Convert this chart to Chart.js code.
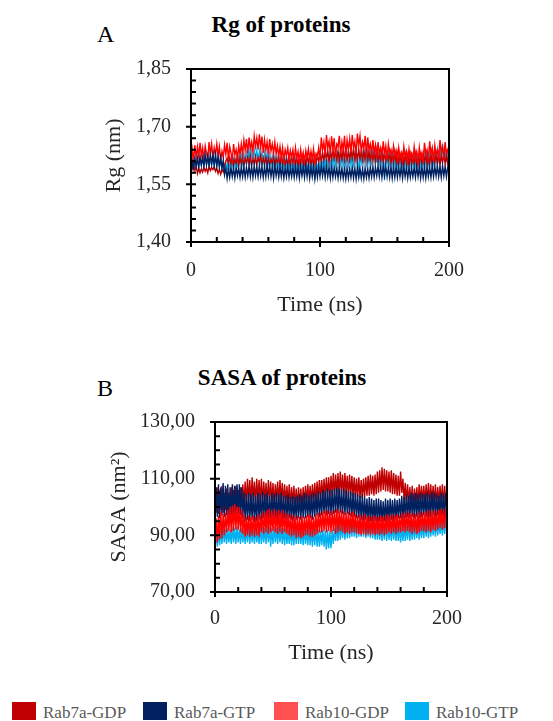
<!DOCTYPE html>
<html lang="en">
<head>
  <meta charset="UTF-8" />
  <title>Rg and SASA of proteins</title>
  <script src="https://cdn.jsdelivr.net/npm/chart.js"></script>
  <style>
    * { box-sizing: border-box; }
    body {
      margin: 0;
      background: #fff;
      font-family: 'Liberation Serif', 'Times New Roman', serif;
    }
    .page { position: relative; width: 553px; height: 721px; overflow: hidden; }
    canvas { position: absolute; left: 0; }
    #rgChart { top: 0; }
    #sasaChart { top: 340px; }

    .lbl { position: absolute; line-height: 1; white-space: nowrap; color: #000; }
    .panel { font-size: 24px; left: 97px; }
    .title { font-size: 23px; font-weight: bold; transform: translateX(-50%); }

    /* legend */
    .swatch { position: absolute; top: 702px; width: 24px; height: 18px; }
    .legend-text { position: absolute; top: 704px; font-size: 17px; line-height: 1; color: #595959; white-space: nowrap; }
  </style>
</head>
<body>
  <div class="page" id="page">
    <div class="lbl panel" style="top:22px">A</div>
    <div class="lbl title" style="left:281px; top:13px">Rg of proteins</div>
    <canvas id="rgChart" width="553" height="330"></canvas>

    <div class="lbl panel" style="top:376px">B</div>
    <div class="lbl title" style="left:282px; top:366px">SASA of proteins</div>
    <canvas id="sasaChart" width="553" height="360"></canvas>
  </div>

<script>
  // time axis (ns), one sample per ns
  const timeNs = [
    0, 1, 2, 3, 4, 5, 6, 7, 8, 9, 10, 11, 12, 13, 14, 15, 16, 17, 18, 19,
    20, 21, 22, 23, 24, 25, 26, 27, 28, 29, 30, 31, 32, 33, 34, 35, 36, 37, 38, 39,
    40, 41, 42, 43, 44, 45, 46, 47, 48, 49, 50, 51, 52, 53, 54, 55, 56, 57, 58, 59,
    60, 61, 62, 63, 64, 65, 66, 67, 68, 69, 70, 71, 72, 73, 74, 75, 76, 77, 78, 79,
    80, 81, 82, 83, 84, 85, 86, 87, 88, 89, 90, 91, 92, 93, 94, 95, 96, 97, 98, 99,
    100, 101, 102, 103, 104, 105, 106, 107, 108, 109, 110, 111, 112, 113, 114, 115, 116, 117, 118, 119,
    120, 121, 122, 123, 124, 125, 126, 127, 128, 129, 130, 131, 132, 133, 134, 135, 136, 137, 138, 139,
    140, 141, 142, 143, 144, 145, 146, 147, 148, 149, 150, 151, 152, 153, 154, 155, 156, 157, 158, 159,
    160, 161, 162, 163, 164, 165, 166, 167, 168, 169, 170, 171, 172, 173, 174, 175, 176, 177, 178, 179,
    180, 181, 182, 183, 184, 185, 186, 187, 188, 189, 190, 191, 192, 193, 194, 195, 196, 197, 198, 199,
    200
  ];

  const seriesNames = ['Rab7a-GDP', 'Rab7a-GTP', 'Rab10-GDP', 'Rab10-GTP'];
  const lineColors = ['#C00000', '#002060', '#FF0000', '#00B0F0'];
  const legendColors = ['#C00000', '#002060', '#FF5050', '#00B0F0'];
  // lower = drawn on top
  const rgDrawOrder = [2, 0, 1, 3];
  const sasaDrawOrder = [2, 1, 0, 3];

  // Rg (nm)
  const rgRab7aGdp = [
    1.605, 1.590, 1.600, 1.585, 1.598, 1.578, 1.592, 1.580, 1.590, 1.582, 1.594, 1.584, 1.592, 1.580, 1.596, 1.586, 1.594, 1.588, 1.596, 1.584,
    1.592, 1.578, 1.590, 1.576, 1.588, 1.582, 1.600, 1.610, 1.618, 1.602, 1.620, 1.605, 1.622, 1.600, 1.616, 1.604, 1.624, 1.600, 1.620, 1.604,
    1.620, 1.598, 1.618, 1.606, 1.622, 1.602, 1.625, 1.600, 1.616, 1.604, 1.622, 1.600, 1.620, 1.608, 1.626, 1.600, 1.618, 1.604, 1.622, 1.600,
    1.620, 1.602, 1.616, 1.604, 1.622, 1.598, 1.618, 1.606, 1.620, 1.600, 1.624, 1.604, 1.618, 1.600, 1.616, 1.602, 1.620, 1.598, 1.622, 1.606,
    1.622, 1.602, 1.618, 1.600, 1.620, 1.604, 1.625, 1.602, 1.618, 1.600, 1.622, 1.606, 1.624, 1.602, 1.620, 1.600, 1.624, 1.606, 1.626, 1.608,
    1.628, 1.610, 1.632, 1.612, 1.636, 1.614, 1.638, 1.610, 1.634, 1.614, 1.640, 1.616, 1.636, 1.612, 1.638, 1.610, 1.636, 1.614, 1.640, 1.612,
    1.640, 1.615, 1.636, 1.612, 1.638, 1.616, 1.642, 1.614, 1.638, 1.612, 1.640, 1.616, 1.636, 1.612, 1.638, 1.614, 1.642, 1.610, 1.636, 1.612,
    1.636, 1.612, 1.634, 1.610, 1.638, 1.608, 1.632, 1.612, 1.636, 1.610, 1.634, 1.608, 1.632, 1.610, 1.634, 1.606, 1.630, 1.608, 1.634, 1.606,
    1.630, 1.604, 1.628, 1.606, 1.626, 1.602, 1.628, 1.605, 1.626, 1.600, 1.628, 1.604, 1.624, 1.602, 1.628, 1.600, 1.624, 1.603, 1.626, 1.604,
    1.628, 1.606, 1.630, 1.602, 1.626, 1.604, 1.628, 1.600, 1.626, 1.606, 1.630, 1.604, 1.628, 1.600, 1.626, 1.606, 1.630, 1.604, 1.628, 1.602,
    1.626
  ];
  const rgRab7aGtp = [
    1.578, 1.608, 1.592, 1.615, 1.596, 1.618, 1.594, 1.622, 1.600, 1.620, 1.598, 1.626, 1.602, 1.624, 1.600, 1.628, 1.604, 1.626, 1.600, 1.628,
    1.598, 1.624, 1.596, 1.620, 1.592, 1.612, 1.575, 1.592, 1.565, 1.590, 1.568, 1.594, 1.570, 1.592, 1.566, 1.594, 1.572, 1.592, 1.568, 1.595,
    1.570, 1.595, 1.568, 1.594, 1.572, 1.598, 1.570, 1.596, 1.568, 1.598, 1.572, 1.595, 1.570, 1.598, 1.572, 1.596, 1.568, 1.595, 1.570, 1.600,
    1.572, 1.598, 1.570, 1.596, 1.566, 1.600, 1.572, 1.594, 1.568, 1.596, 1.570, 1.594, 1.566, 1.592, 1.570, 1.596, 1.568, 1.592, 1.570, 1.594,
    1.568, 1.596, 1.570, 1.594, 1.566, 1.596, 1.572, 1.595, 1.568, 1.598, 1.570, 1.598, 1.566, 1.594, 1.570, 1.596, 1.564, 1.594, 1.568, 1.596,
    1.570, 1.598, 1.572, 1.596, 1.568, 1.598, 1.570, 1.594, 1.566, 1.596, 1.568, 1.594, 1.570, 1.592, 1.566, 1.594, 1.568, 1.592, 1.566, 1.590,
    1.564, 1.592, 1.566, 1.590, 1.568, 1.594, 1.566, 1.592, 1.564, 1.594, 1.568, 1.592, 1.566, 1.590, 1.564, 1.592, 1.568, 1.590, 1.566, 1.594,
    1.570, 1.596, 1.568, 1.594, 1.572, 1.598, 1.570, 1.596, 1.568, 1.598, 1.572, 1.596, 1.570, 1.594, 1.568, 1.596, 1.566, 1.594, 1.568, 1.596,
    1.568, 1.594, 1.570, 1.596, 1.566, 1.596, 1.570, 1.592, 1.566, 1.594, 1.568, 1.592, 1.570, 1.594, 1.568, 1.596, 1.570, 1.594, 1.566, 1.596,
    1.568, 1.594, 1.566, 1.596, 1.570, 1.594, 1.568, 1.598, 1.570, 1.596, 1.572, 1.598, 1.570, 1.596, 1.568, 1.598, 1.572, 1.596, 1.570, 1.594,
    1.592
  ];
  const rgRab10Gdp = [
    1.605, 1.640, 1.612, 1.652, 1.618, 1.648, 1.622, 1.658, 1.625, 1.645, 1.615, 1.650, 1.632, 1.614, 1.660, 1.628, 1.655, 1.620, 1.645, 1.626,
    1.655, 1.625, 1.648, 1.612, 1.636, 1.620, 1.652, 1.628, 1.658, 1.615, 1.648, 1.632, 1.612, 1.655, 1.626, 1.640, 1.618, 1.650, 1.626, 1.655,
    1.628, 1.665, 1.638, 1.668, 1.630, 1.672, 1.642, 1.660, 1.635, 1.676, 1.648, 1.670, 1.640, 1.680, 1.645, 1.674, 1.632, 1.666, 1.638, 1.660,
    1.628, 1.668, 1.636, 1.655, 1.630, 1.660, 1.628, 1.650, 1.622, 1.648, 1.618, 1.645, 1.612, 1.640, 1.625, 1.645, 1.615, 1.638, 1.620, 1.640,
    1.610, 1.645, 1.618, 1.635, 1.608, 1.640, 1.612, 1.632, 1.606, 1.638, 1.620, 1.642, 1.612, 1.636, 1.615, 1.642, 1.605, 1.630, 1.622, 1.645,
    1.615, 1.672, 1.640, 1.660, 1.625, 1.678, 1.645, 1.662, 1.630, 1.675, 1.640, 1.670, 1.622, 1.655, 1.648, 1.676, 1.628, 1.660, 1.640, 1.676,
    1.624, 1.665, 1.640, 1.668, 1.632, 1.678, 1.645, 1.662, 1.628, 1.682, 1.650, 1.676, 1.635, 1.660, 1.644, 1.676, 1.626, 1.672, 1.640, 1.655,
    1.630, 1.665, 1.632, 1.652, 1.618, 1.660, 1.630, 1.645, 1.622, 1.662, 1.628, 1.650, 1.615, 1.655, 1.630, 1.640, 1.620, 1.650, 1.625, 1.638,
    1.612, 1.645, 1.620, 1.632, 1.608, 1.648, 1.622, 1.636, 1.610, 1.642, 1.618, 1.630, 1.612, 1.648, 1.620, 1.635, 1.606, 1.645, 1.618, 1.632,
    1.612, 1.658, 1.628, 1.640, 1.615, 1.662, 1.630, 1.645, 1.610, 1.652, 1.625, 1.638, 1.618, 1.665, 1.632, 1.648, 1.615, 1.660, 1.630, 1.640,
    1.622
  ];
  const rgRab10Gtp = [
    1.600, 1.615, 1.598, 1.620, 1.602, 1.612, 1.596, 1.618, 1.600, 1.614, 1.598, 1.620, 1.602, 1.616, 1.596, 1.614, 1.600, 1.618, 1.598, 1.620,
    1.598, 1.614, 1.596, 1.612, 1.590, 1.608, 1.594, 1.605, 1.588, 1.610, 1.592, 1.612, 1.596, 1.615, 1.598, 1.618, 1.600, 1.622, 1.604, 1.625,
    1.604, 1.630, 1.610, 1.632, 1.612, 1.638, 1.610, 1.636, 1.612, 1.640, 1.614, 1.638, 1.612, 1.636, 1.610, 1.634, 1.608, 1.632, 1.606, 1.630,
    1.606, 1.628, 1.602, 1.624, 1.600, 1.620, 1.598, 1.618, 1.596, 1.618, 1.594, 1.615, 1.592, 1.614, 1.590, 1.612, 1.592, 1.614, 1.590, 1.612,
    1.588, 1.614, 1.590, 1.612, 1.590, 1.610, 1.588, 1.612, 1.586, 1.612, 1.586, 1.610, 1.584, 1.608, 1.586, 1.610, 1.562, 1.608, 1.588, 1.610,
    1.590, 1.618, 1.594, 1.620, 1.596, 1.622, 1.598, 1.624, 1.598, 1.625, 1.600, 1.626, 1.600, 1.628, 1.602, 1.626, 1.602, 1.628, 1.600, 1.626,
    1.598, 1.624, 1.600, 1.626, 1.600, 1.628, 1.602, 1.628, 1.604, 1.630, 1.565, 1.628, 1.606, 1.630, 1.604, 1.632, 1.604, 1.636, 1.606, 1.638,
    1.608, 1.640, 1.610, 1.644, 1.606, 1.638, 1.606, 1.632, 1.602, 1.630, 1.562, 1.628, 1.604, 1.628, 1.602, 1.628, 1.600, 1.626, 1.600, 1.624,
    1.598, 1.622, 1.598, 1.622, 1.596, 1.620, 1.598, 1.622, 1.598, 1.624, 1.600, 1.624, 1.600, 1.626, 1.600, 1.626, 1.598, 1.624, 1.598, 1.622,
    1.600, 1.628, 1.602, 1.630, 1.604, 1.634, 1.606, 1.636, 1.606, 1.638, 1.608, 1.640, 1.610, 1.648, 1.612, 1.655, 1.612, 1.645, 1.608, 1.640,
    1.570
  ];

  // SASA (nm²)
  const sasaRab7aGdp = [
    105, 98, 107, 97.5, 106, 99, 107.5, 98, 105, 99, 106.5, 98, 105, 100, 107, 99, 106, 100, 107.5, 99,
    106, 99, 107, 100, 108, 101, 109, 101, 110, 102, 109.5, 101, 110.5, 102, 109, 101, 110, 102, 109.5, 101.5,
    110, 101, 109, 102, 108.5, 101, 109.5, 102, 109, 101.5, 108.5, 101, 108, 102, 109, 101, 109.5, 102, 108.5, 101,
    108, 101, 107.5, 100.5, 108, 100, 107, 100.5, 107.5, 100, 106.5, 99.5, 107, 100, 106.5, 99.5, 107, 100.5, 107.5, 101,
    108, 101.5, 107.5, 101, 108, 101, 108.5, 102, 109, 102.5, 109.5, 102.5, 109.5, 103, 110, 103, 110.5, 103.5, 110.5, 103.5,
    111, 104, 112, 104, 111.5, 104.5, 112, 104, 112.5, 104.5, 111.5, 104, 112, 104.5, 111, 103.5, 111.5, 104, 111, 103.5,
    110.5, 103, 110, 103.5, 110.5, 103, 109.5, 103, 110, 103.5, 110.5, 104, 111, 104, 111.5, 104.5, 111, 104, 111.5, 104.5,
    112.5, 105, 113, 105.5, 114, 106, 113.5, 105.5, 113, 105.5, 112.5, 105, 113, 104.5, 112, 104.5, 111.5, 104, 111, 104,
    112.5, 105, 110, 102, 108.5, 101.5, 108, 101, 107, 100.5, 107.5, 100, 106.5, 100, 107, 100.5, 108, 101, 107.5, 101,
    107.5, 101, 108, 101.5, 108.5, 101, 108, 100.5, 107.5, 101, 108, 100.5, 107, 101, 107.5, 101, 108, 100.5, 107.5, 100.5,
    106
  ];
  const sasaRab7aGtp = [
    99, 107, 96.5, 108, 96, 107, 97, 108.5, 96.5, 107.5, 97, 108, 96, 107, 97, 108, 96.5, 107.5, 97.5, 108,
    97.5, 108, 97, 107, 96, 105, 95, 104.5, 95.5, 105, 95, 104.5, 95.5, 105, 94.5, 104, 95, 105, 95.5, 104.5,
    95, 105.5, 96, 104.5, 95.5, 105, 95, 104, 96, 105, 95.5, 104.5, 96, 105, 95.5, 104.5, 96, 105, 95.5, 104,
    96, 104, 95.5, 104.5, 96, 103.5, 95.5, 104, 95, 103.5, 95.5, 104, 96, 104.5, 95.5, 104, 96, 105, 96, 104.5,
    96.5, 104, 96, 104.5, 95.5, 105, 96.5, 104.5, 97, 105.5, 96.5, 105, 97, 106, 97.5, 105.5, 97, 106.5, 97.5, 106,
    97, 106, 97.5, 106.5, 98, 107, 97.5, 106.5, 98, 106, 97.5, 106.5, 97, 106, 97.5, 105.5, 97, 105.5, 96.5, 105,
    96.5, 105, 96, 104.5, 96, 104, 95.5, 104.5, 95, 103.5, 95.5, 103, 94.5, 103.5, 95, 103, 94.5, 102.5, 95, 103,
    94.5, 103, 95, 102.5, 94.5, 102, 95, 103, 94.5, 102.5, 95, 103, 95.5, 102.5, 95, 103, 95.5, 102.5, 96, 103,
    96, 104, 95.5, 103.5, 96, 104.5, 96.5, 104, 96, 105, 96.5, 104.5, 96, 105, 96.5, 104.5, 96, 105, 96.5, 104.5,
    97, 104.5, 96.5, 105, 96, 104.5, 96.5, 105.5, 97, 105, 96.5, 104.5, 97, 104, 96.5, 105, 97, 104.5, 96.5, 105,
    98
  ];
  const sasaRab10Gdp = [
    88, 96, 87.5, 97, 88.5, 98.5, 89, 97.5, 90, 98, 91, 99, 91.5, 100, 91, 100.5, 91.5, 101, 92, 100,
    92, 100, 91, 99, 90.5, 97.5, 89.5, 96.5, 90, 97, 89.5, 96.5, 90, 97, 89.5, 96.5, 90, 97.5, 89.5, 97,
    91, 98.5, 90.5, 98, 91, 99, 90.5, 99.5, 91, 98.5, 91.5, 99.5, 91, 98.5, 90.5, 99, 91, 98, 90.5, 99,
    91, 98, 90.5, 97.5, 90, 97.5, 89.5, 97, 90, 96.5, 89, 97, 89.5, 96.5, 89, 97, 89.5, 96.5, 90, 97,
    90, 97.5, 89.5, 97, 89.5, 96.5, 90, 97.5, 90.5, 98, 91, 98, 91, 98.5, 91.5, 98.5, 91, 99, 91.5, 98.5,
    91, 98.5, 91.5, 99, 90.5, 99.5, 91, 98.5, 91.5, 99, 91, 98.5, 90.5, 98, 91, 98.5, 90.5, 98, 91, 98.5,
    91, 97.5, 90.5, 97, 90.5, 97.5, 90, 97, 90.5, 97.5, 90, 96.5, 90.5, 97, 90, 96.5, 90.5, 97, 90, 97,
    90.5, 96.5, 90, 97, 90.5, 96.5, 90, 97, 90.5, 97.5, 91, 97, 90.5, 97.5, 91, 97, 90.5, 97.5, 91, 97,
    91, 98, 91.5, 97.5, 91, 98.5, 91.5, 98, 91, 97.5, 90.5, 98, 91, 97.5, 90.5, 98, 91, 98.5, 91.5, 98,
    91.5, 98, 91, 98.5, 91.5, 99, 91, 98.5, 92, 99, 91.5, 98.5, 92, 99, 92.5, 99.5, 92, 99, 92.5, 99.5,
    96
  ];
  const sasaRab10Gtp = [
    85.5, 91, 86, 91.5, 86.5, 92, 87, 92.5, 87.5, 92, 87, 92.5, 87.5, 92, 87, 93, 87.5, 92.5, 87, 93,
    87.5, 92, 87, 92.5, 87.5, 92, 87, 92.5, 87.5, 93, 87, 92.5, 87.5, 92, 87, 92.5, 87.5, 92, 87, 92.5,
    87, 93, 87.5, 92.5, 87, 93.5, 87.5, 93, 86, 92.5, 87, 93, 87.5, 92.5, 87, 93, 87.5, 92.5, 87, 92.5,
    86.5, 92.5, 87, 92, 87, 92.5, 86.5, 92, 86.5, 92.5, 87, 93, 87, 92.5, 87, 92, 86.5, 92.5, 87, 92,
    86.5, 92.5, 86.5, 92, 86, 92, 86.5, 92.5, 86, 92, 86, 91.5, 86.5, 92, 86, 91.5, 85, 92, 85.5, 91.5,
    85.5, 92, 87, 92.5, 88, 93.5, 88, 94, 88.5, 94, 89, 94.5, 88.5, 94.5, 89, 95, 89, 94.5, 89.5, 95,
    89.5, 94.5, 89, 95, 89.5, 94.5, 89.5, 95.5, 89.5, 95, 89, 94.5, 89.5, 95, 89, 94.5, 89, 94, 88.5, 94,
    88.5, 93.5, 88.5, 94, 88, 93.5, 88.5, 94, 88, 93.5, 88.5, 93, 88, 93.5, 88.5, 93, 88, 93.5, 88, 93,
    87.5, 93, 88, 93.5, 88, 93.5, 88.5, 94, 88, 93.5, 88.5, 94, 88.5, 93.5, 89, 94, 88.5, 94, 89, 94,
    89, 94.5, 89.5, 94.5, 89, 95, 89.5, 94.5, 90, 94.5, 89.5, 95, 90, 94.5, 90.5, 95, 90, 95.5, 90.5, 95,
    92
  ];

  const inkColor = '#262626';
  const tickFont = { family: "'Liberation Serif', 'Times New Roman', serif", size: 20 };
  const axisTitleFont = { family: "'Liberation Serif', 'Times New Roman', serif", size: 22 };

  function isMajor(v, base, step) {
    const k = (v - base) / step;
    return Math.abs(k - Math.round(k)) < 1e-6;
  }

  // black frame round the plot + inward minor ticks, crossing major ticks
  const frameTicks = {
    id: 'frameTicks',
    afterDraw(chart, args, o) {
      const { ctx, chartArea: a, scales: { x, y } } = chart;
      ctx.save();
      ctx.strokeStyle = '#000';
      ctx.lineWidth = 2;
      ctx.strokeRect(a.left, a.top, a.right - a.left, a.bottom - a.top);
      ctx.beginPath();
      y.ticks.forEach(t => {
        const py = y.getPixelForValue(t.value);
        const major = isMajor(t.value, y.min, o.yMajor);
        ctx.moveTo(a.left - (major ? 5 : 0), py);
        ctx.lineTo(a.left + 5, py);
      });
      x.ticks.forEach(t => {
        const px = x.getPixelForValue(t.value);
        const major = isMajor(t.value, x.min, o.xMajor);
        ctx.moveTo(px, a.bottom + (major ? 5 : 0));
        ctx.lineTo(px, a.bottom - 5);
      });
      ctx.stroke();
      ctx.restore();
    }
  };

  function buildChart(id, series, o) {
    const fmt = v => v.toFixed(2).replace('.', ',');
    return new Chart(document.getElementById(id), {
      type: 'line',
      data: {
        datasets: seriesNames.map((name, i) => ({
          label: name,
          data: timeNs.map((t, j) => ({ x: t, y: series[i][j] })),
          borderColor: lineColors[i],
          borderWidth: 1.4,
          pointRadius: 0,
          tension: 0,
          order: o.order[i]
        }))
      },
      options: {
        responsive: false,
        animation: false,
        devicePixelRatio: 1,
        events: [],
        layout: { padding: { left: 0, top: o.padTop, right: o.padRight, bottom: o.padBottom } },
        plugins: {
          legend: { display: false },
          tooltip: { enabled: false },
          frameTicks: { xMajor: 100, yMajor: o.yMajor }
        },
        scales: {
          x: {
            type: 'linear', min: 0, max: 200,
            grid: { display: false, drawTicks: false },
            border: { display: false },
            ticks: {
              stepSize: 20, autoSkip: false, maxRotation: 0,
              padding: o.xTickPad, color: inkColor, font: tickFont,
              callback: v => isMajor(v, 0, 100) ? String(v) : ''
            },
            title: { display: true, text: 'Time (ns)', color: inkColor, font: axisTitleFont, padding: 0 },
            afterFit: s => { s.height = o.xAxisH; }
          },
          y: {
            min: o.yMin, max: o.yMax,
            grid: { display: false, drawTicks: false },
            border: { display: false },
            ticks: {
              stepSize: o.yMinor, autoSkip: false,
              padding: 20, color: inkColor, font: tickFont,
              callback: v => isMajor(v, o.yMin, o.yMajor) ? fmt(v) : ''
            },
            title: { display: true, text: o.yTitle, color: inkColor, font: axisTitleFont, padding: { top: o.yTitlePad, bottom: 0 } },
            afterFit: s => { s.width = o.yAxisW; }
          }
        }
      },
      plugins: [frameTicks]
    });
  }

  buildChart('rgChart', [rgRab7aGdp, rgRab7aGtp, rgRab10Gdp, rgRab10Gtp], {
    yMin: 1.40, yMax: 1.85, yMajor: 0.15, yMinor: 0.03, yTitle: 'Rg (nm)', order: rgDrawOrder,
    padTop: 69, padRight: 104, padBottom: 12,
    xAxisH: 76, yAxisW: 191, yTitlePad: 101, xTickPad: 17
  });

  buildChart('sasaChart', [sasaRab7aGdp, sasaRab7aGtp, sasaRab10Gdp, sasaRab10Gtp], {
    yMin: 70, yMax: 130, yMajor: 20, yMinor: 5, yTitle: 'SASA (nm²)', order: sasaDrawOrder,
    padTop: 82, padRight: 106, padBottom: 34,
    xAxisH: 74, yAxisW: 215, yTitlePad: 106, xTickPad: 15
  });

  // legend along the bottom
  const page = document.getElementById('page');
  seriesNames.forEach((name, i) => {
    const left = 12 + i * 131;
    const sw = document.createElement('div');
    sw.className = 'swatch';
    sw.style.left = left + 'px';
    sw.style.background = legendColors[i];
    const tx = document.createElement('div');
    tx.className = 'legend-text';
    tx.style.left = (left + 31) + 'px';
    tx.textContent = name;
    page.appendChild(sw);
    page.appendChild(tx);
  });
</script>
</body>
</html>
